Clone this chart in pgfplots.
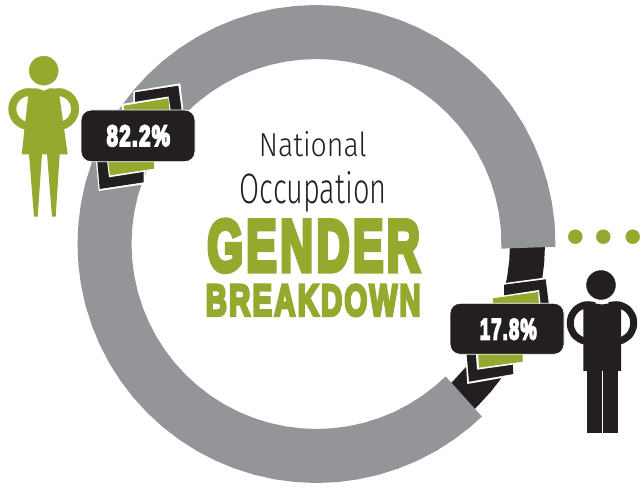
\documentclass[border=0pt]{standalone}
\usepackage{fontspec}
\usepackage{pgfplots}
\pgfplotsset{compat=1.18}
\setmainfont{Liberation Sans}
\newfontfamily\heavy[FakeBold=7,LetterSpace=7]{Liberation Sans Bold}
\newfontfamily\thin{Fira Sans Light}
\definecolor{ringgray}{HTML}{939598}
\definecolor{ink}{HTML}{231F20}
\definecolor{leaf}{HTML}{93AA2E}
\pgfplotsset{base/.style={scale only axis,width=641pt,height=494pt,hide axis,clip=false},
 poly/.style={fill=#1,draw=none,no markers}}
\newcommand{\fit}[3]{\resizebox{#1pt}{#2pt}{#3}}
\begin{document}
\begin{tikzpicture}
\useasboundingbox (0,0) rectangle (641pt,494pt);
% ring, in polar data around its centre
\begin{axis}[base,at={(0,0)},anchor=south west,xmin=-316.5,xmax=324.5,ymin=-250,ymax=244]
\addplot[data cs=polar,draw=ink,line width=35pt,no markers] coordinates {
(-47,211)(-45,211)(-40,211)(-35,211)(-30,211)(-25,211)(-20,211)(-15,211)(-10,211)(-5,211)(0,211)(2,211)};
\addplot[data cs=polar,draw=ringgray,line width=54pt,no markers] coordinates {
(-1,212)(5,212)(10,212)(15,212)(20,212)(25,212)(30,212)(35,212)(40,212)(45,212)(50,212)(55,212)(60,212)(65,212)(70,212)(75,212)(80,212)(85,212)(90,212)(95,212)(100,212)(105,212)(110,212)(115,212)(120,212)(125,212)(130,212)(135,212)(140,212)(145,212)(150,212)(155,212)(160,212)(165,212)(170,212)(175,212)(180,212)(185,212)(190,212)(195,212)(200,212)(205,212)(210,212)(215,212)(220,212)(225,212)(230,212)(235,212)(240,212)(245,212)(250,212)(255,212)(260,212)(265,212)(270,212)(275,212)(280,212)(285,212)(290,212)(295,212)(300,212)(305,212)(310,212)(314,212)};
\end{axis}
% everything else, in picture pixels
\begin{axis}[base,at={(0,0)},anchor=south west,xmin=0,xmax=641,ymin=0,ymax=494,y dir=reverse]
% upper-left stack
\addplot[poly=white] coordinates {(133.3,91)(180.3,83.3)(184,115)(133.3,115)} --cycle;
\addplot[poly=ink] coordinates {(135,92.3)(178.3,85.7)(182.3,115)(135,115)} --cycle;
\addplot[poly=white] coordinates {(121.7,104)(168.5,96.5)(171.5,115)(121.7,115)} --cycle;
\addplot[poly=leaf] coordinates {(124,105.7)(168.3,98.3)(170,115)(124,115)} --cycle;
% lower-left stack
\addplot[poly=white] coordinates {(95.7,158)(98.7,191)(145.7,184)(144.7,158)} --cycle;
\addplot[poly=ink] coordinates {(97,158)(99.7,189)(143.7,182.3)(143.3,158)} --cycle;
\addplot[poly=white] coordinates {(106.7,158)(109,177.3)(155.3,170)(155.3,158)} --cycle;
\addplot[poly=leaf] coordinates {(107.7,158)(110,175.3)(154,168.7)(154,158)} --cycle;
% upper-right stack
\addplot[poly=white] coordinates {(502.7,283.3)(547.3,277.3)(550.7,308)(502.7,308)} --cycle;
\addplot[poly=ink] coordinates {(504,284.7)(545.7,279.3)(549.3,308)(504,308)} --cycle;
\addplot[poly=white] coordinates {(491.7,297.3)(539,290)(541,308)(491.7,308)} --cycle;
\addplot[poly=leaf] coordinates {(493,298.3)(538,292)(539.3,308)(493,308)} --cycle;
% lower-right stack
\addplot[poly=white] coordinates {(465,350)(467.3,384)(515,375.7)(513.3,350)} --cycle;
\addplot[poly=ink] coordinates {(466.3,350)(469,381.7)(513.3,374)(512,350)} --cycle;
\addplot[poly=white] coordinates {(475.7,350)(477,369.7)(524.3,363)(524.3,350)} --cycle;
\addplot[poly=leaf] coordinates {(478,350)(479,367.7)(522.7,361.7)(522.7,350)} --cycle;
% labels
\addplot[fill=ink,draw=white,line width=0.8pt,rounded corners=10pt,no markers] coordinates {(81,110)(195,110)(195,161.7)(81,161.7)} --cycle;
\addplot[fill=ink,draw=white,line width=0.8pt,rounded corners=10pt,no markers] coordinates {(450,303.3)(564,303.3)(564,354.3)(450,354.3)} --cycle;
% woman
\addplot[only marks,mark=*,mark size=14.5pt,color=leaf,mark options={draw=none}] coordinates {(43.7,70.7)};
\addplot[smooth,draw=leaf,line width=8pt,no markers] coordinates {(35.1,93)(26.3,92.3)(18.4,96)(13.3,103.2)(12.6,112)(16.3,119.9)(23.5,125)(32.3,125.7)(40.2,122)};
\addplot[smooth,draw=leaf,line width=8pt,no markers] coordinates {(52.3,93)(61.1,92.3)(69,96)(74.1,103.2)(74.8,112)(71.1,119.9)(63.9,125)(55.1,125.7)(47.2,122)};
\addplot[poly=leaf] coordinates {(28.3,95)(21.7,154.3)(67.7,154.3)(59.3,95)(58,89)(50,88.3)(43.7,90.7)(37,88.3)(29,89)} --cycle;
\addplot[poly=leaf] coordinates {(29,154)(42,154)(37.7,216.7)(34,216.7)} --cycle;
\addplot[poly=leaf] coordinates {(47,154)(59.7,154)(55.7,216.7)(52,216.7)} --cycle;
% man
\addplot[only marks,mark=*,mark size=14.5pt,color=ink,mark options={draw=none}] coordinates {(601,285)};
\addplot[smooth,draw=ink,line width=7pt,no markers] coordinates {(595,305.6)(585.5,304.8)(576.8,308.8)(571.3,316.7)(570.5,326.2)(574.5,334.9)(582.4,340.4)(591.9,341.2)(600.6,337.2)};
\addplot[smooth,draw=ink,line width=7pt,no markers] coordinates {(609,305.6)(618.5,304.8)(627.2,308.8)(632.7,316.7)(633.5,326.2)(629.5,334.9)(621.6,340.4)(612.1,341.2)(603.4,337.2)};
\addplot[poly=ink] coordinates {(583.3,371)(621,371)(621,305)(612,303)(602,304.5)(592,303)(583.3,305)} --cycle;
\addplot[poly=ink] coordinates {(587.3,370)(602,370)(602,432.7)(587.3,432.7)} --cycle;
\addplot[poly=ink] coordinates {(603,370)(618,370)(618,432.7)(603,432.7)} --cycle;
% dots
\addplot[only marks,mark=*,mark size=7pt,color=leaf,mark options={draw=none}] coordinates {(575.3,236.7)(603.3,236.7)(632.7,236.7)};
% text
\node[inner sep=0,text=ink] at (axis cs:312.8,144.2) {\fit{107.7}{25}{\thin National}};
\node[inner sep=0,text=ink] at (axis cs:313.3,192) {\fit{146.7}{32}{\thin Occupation}};
\node[inner sep=0,text=leaf] at (axis cs:313.6,245.8) {\fit{212.7}{51}{\heavy GENDER}};
\node[inner sep=0,text=leaf] at (axis cs:313.2,300.3) {\fit{215}{31}{\heavy BREAKDOWN}};
\node[inner sep=0,text=white] at (axis cs:138.3,135.8) {\fit{63.3}{20.5}{\heavy 82.2\%}};
\node[inner sep=0,text=white] at (axis cs:508.3,329.2) {\fit{56.7}{20.5}{\heavy 17.8\%}};
\end{axis}
\end{tikzpicture}
\end{document}
